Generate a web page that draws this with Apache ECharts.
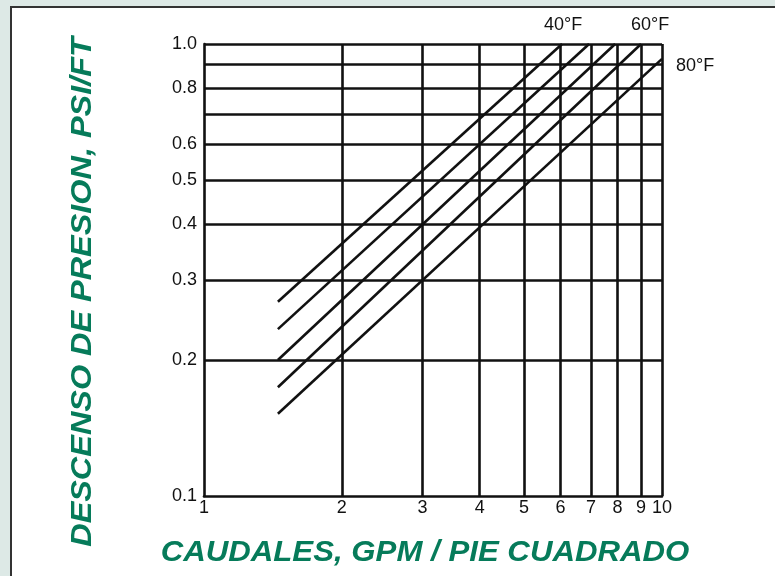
<!DOCTYPE html>
<html><head><meta charset="utf-8">
<script src="https://cdn.jsdelivr.net/npm/echarts@6/dist/echarts.min.js"></script>
<style>
html,body{margin:0;padding:0;background:#dde9e6;}
body{width:775px;height:576px;overflow:hidden;position:relative;}
#panel{position:absolute;left:10px;top:6px;width:800px;height:600px;background:#fff;border:2px solid #333;}
#chart{position:absolute;left:0;top:0;width:775px;height:576px;}
</style></head><body><div id="panel"></div><div id="chart"></div>
<script>
// ---- data ----
const xTicks = [1, 2, 3, 4, 5, 6, 7, 8, 9, 10];
const yGrid = [0.1, 0.2, 0.3, 0.4, 0.5, 0.6, 0.7, 0.8, 0.9, 1.0];
const yTickLabels = [0.1, 0.2, 0.3, 0.4, 0.5, 0.6, 0.8, 1.0];
const curveLabels = ['40°F', '', '', '60°F', '80°F'];
const curveStart = [[1.45, 0.269], [1.45, 0.234], [1.45, 0.200], [1.45, 0.174], [1.45, 0.152]];
const curveEnd = [[6.05, 1.0], [6.93, 1.0], [7.90, 1.0], [9.0, 1.0], [10, 0.927]];
const xTitle = 'CAUDALES, GPM / PIE CUADRADO';
const yTitle = 'DESCENSO DE PRESION, PSI/FT';

const GREEN = '#067b5a';
const INK = '#111';
const FONT = '"Liberation Sans", Arial, Helvetica, sans-serif';

const chart = echarts.init(document.getElementById('chart'), null, {renderer: 'canvas'});

const gridLineData = [
  ...xTicks.slice(1).map(v => ({xAxis: v})),
  ...yGrid.slice(1).map(v => ({yAxis: v}))
];

const curveSeries = curveStart.map((s, i) => ({
  type: 'line',
  name: 'c' + i,
  data: [s, curveEnd[i]],
  symbol: 'none',
  lineStyle: {color: INK, width: 2.6},
  z: 5,
  silent: true,
  animation: false
}));

const labelPlacement = [
  {position: 'top', distance: 10, offset: [1, 0]},
  null, null,
  {position: 'top', distance: 10, offset: [9, 0]},
  {position: 'right', distance: 14, offset: [0, 7]}
];

const labelData = [];
curveLabels.forEach((name, i) => {
  if (!name) return;
  const p = labelPlacement[i];
  labelData.push({
    value: curveEnd[i],
    label: {show: true, formatter: name, position: p.position, distance: p.distance, offset: p.offset,
            color: INK, fontFamily: FONT, fontSize: 18}
  });
});

chart.setOption({
  animation: false,
  grid: {left: 204, right: 113, top: 44, bottom: 80},
  xAxis: {
    type: 'log', logBase: 10, min: 1, max: 10,
    axisLine: {show: true, onZero: false, lineStyle: {color: INK, width: 2.6}},
    axisTick: {show: false},
    splitLine: {show: false},
    axisLabel: {
      customValues: xTicks,
      formatter: v => String(Math.round(v)),
      color: INK, fontFamily: FONT, fontSize: 18, margin: 3
    }
  },
  yAxis: {
    type: 'log', logBase: 10, min: 0.1, max: 1,
    axisLine: {show: true, onZero: false, lineStyle: {color: INK, width: 2.6}},
    axisTick: {show: false},
    splitLine: {show: false},
    axisLabel: {
      customValues: yTickLabels,
      formatter: v => Number(v).toFixed(1),
      color: INK, fontFamily: FONT, fontSize: 18, margin: 7
    }
  },
  series: [
    {
      type: 'line', data: [], silent: true,
      markLine: {
        symbol: 'none', silent: true, animation: false,
        label: {show: false},
        lineStyle: {color: INK, width: 2.6, type: 'solid'},
        data: gridLineData
      }
    },
    ...curveSeries,
    {
      type: 'scatter', data: labelData, symbolSize: 0, silent: true, z: 6,
      itemStyle: {opacity: 1}
    }
  ],
  graphic: [
    {type: 'text', x: 425, y: 553, scaleX: 1.04, style: {text: xTitle, fill: GREEN, font: 'italic bold 30px ' + FONT, textAlign: 'center', textVerticalAlign: 'middle'}},
    {type: 'text', x: 83, y: 292, rotation: Math.PI / 2, scaleX: 1.08, style: {text: yTitle, fill: GREEN, font: 'italic bold 30px ' + FONT, textAlign: 'center', textVerticalAlign: 'middle'}}
  ]
});
</script></body></html>
